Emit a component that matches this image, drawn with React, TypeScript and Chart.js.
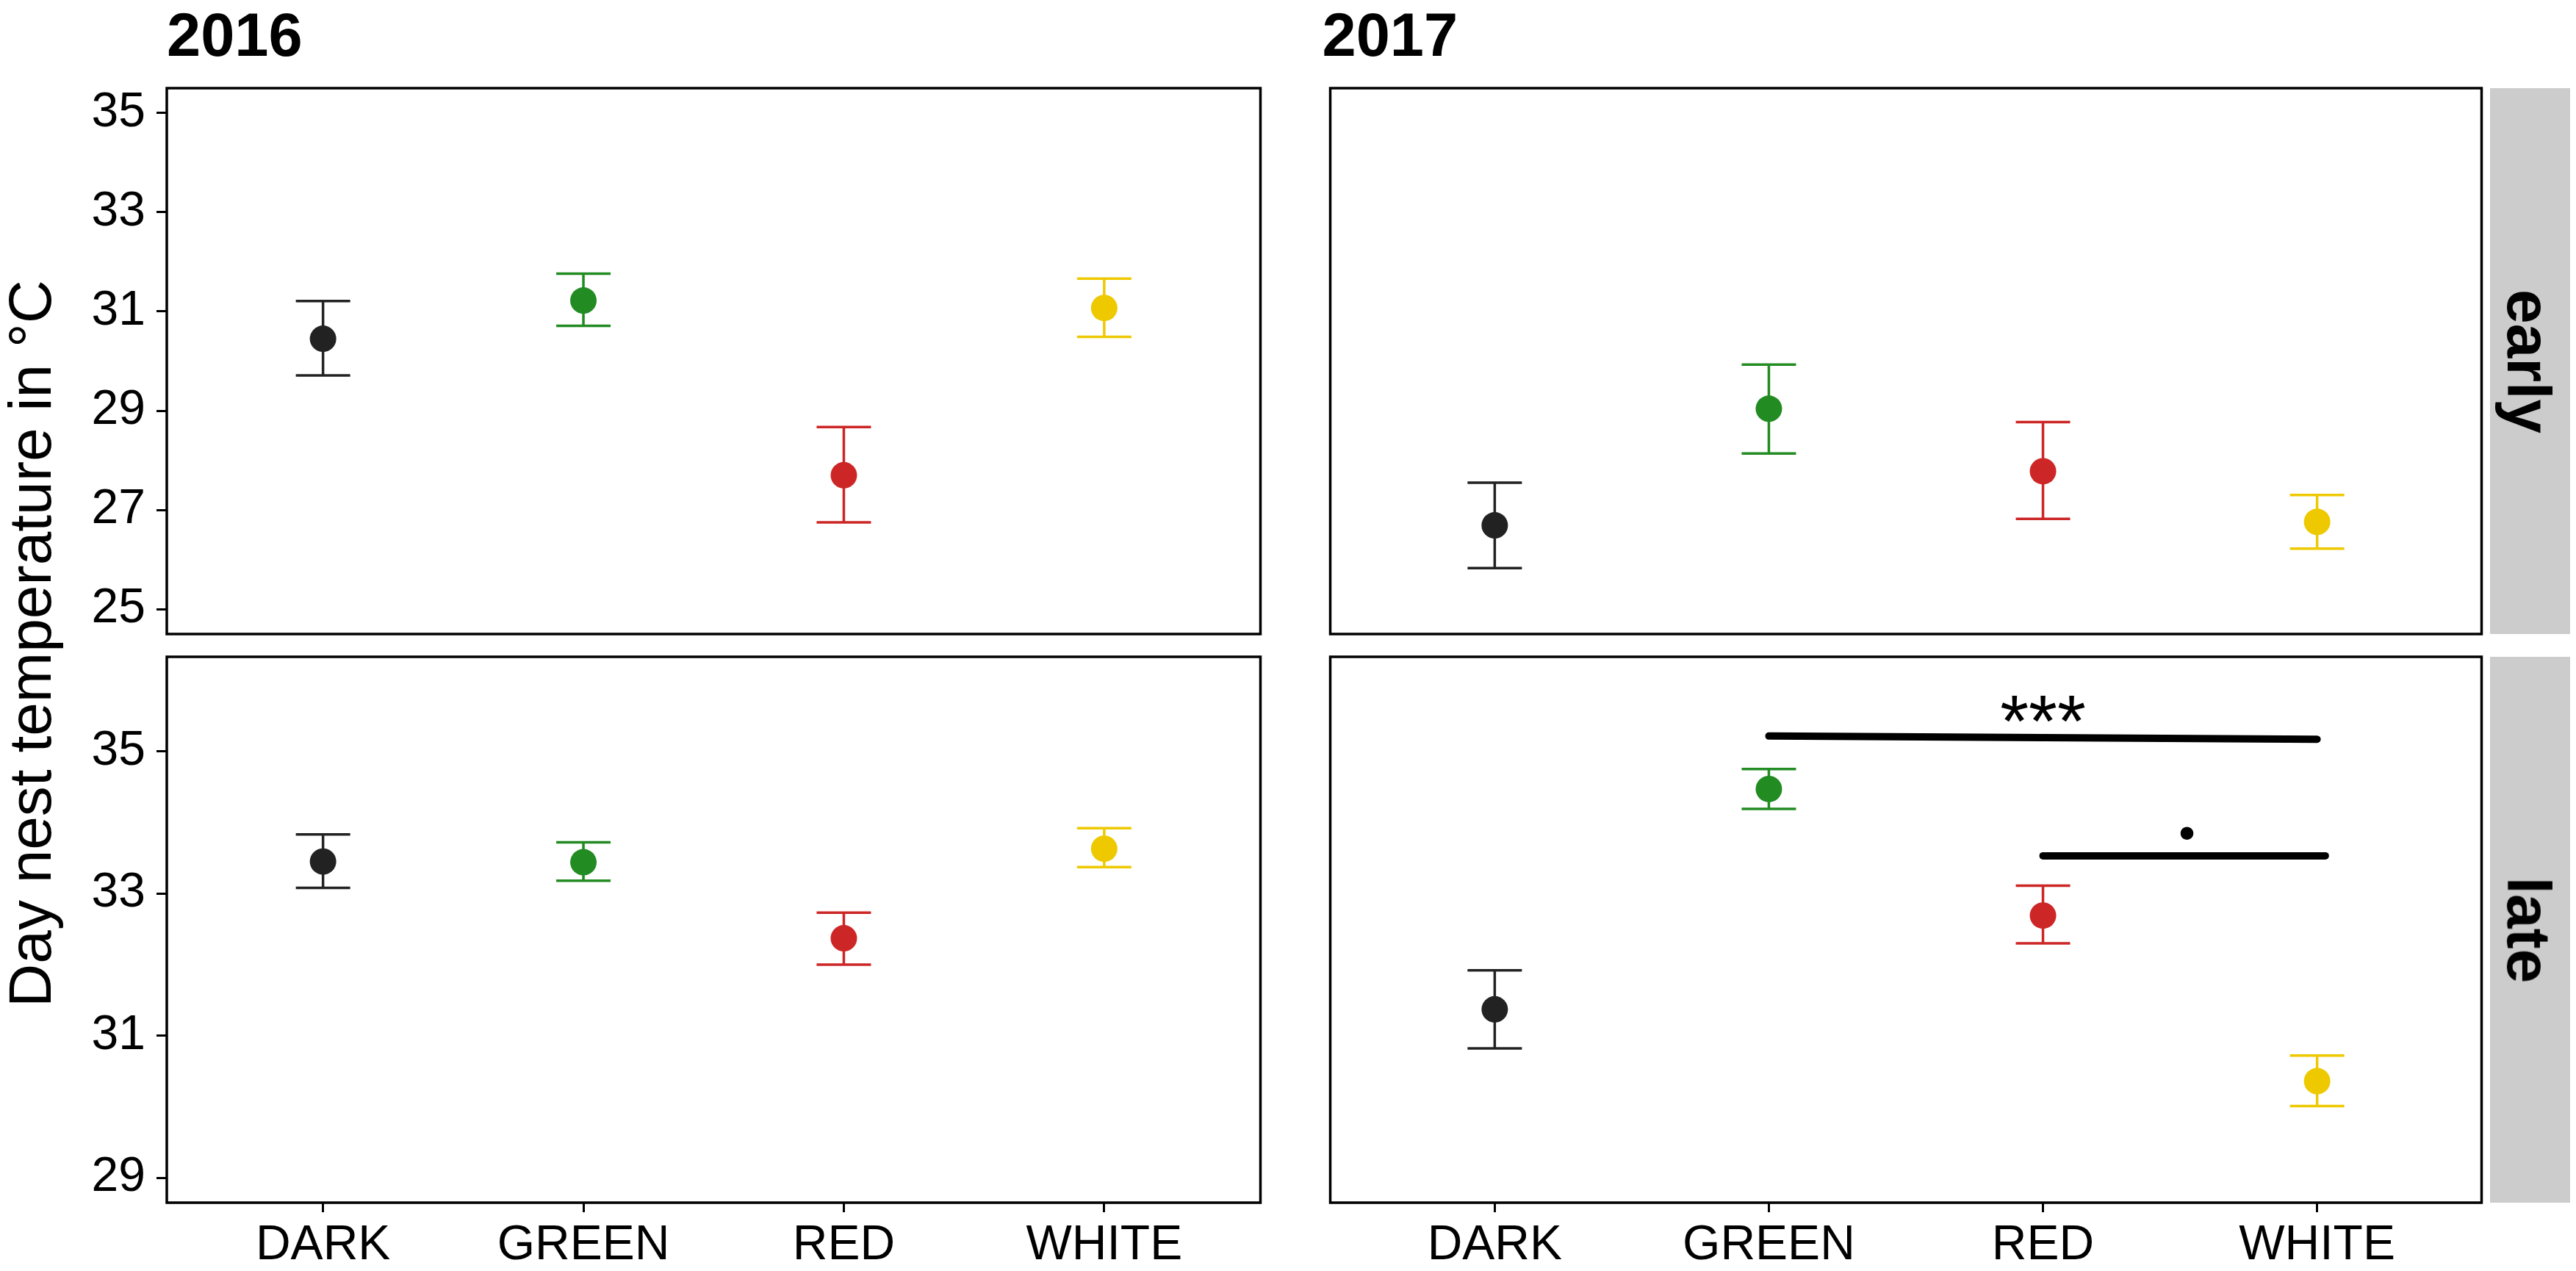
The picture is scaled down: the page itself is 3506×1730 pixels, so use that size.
import React, { useEffect, useRef } from "react";
import { Chart, registerables } from "chart.js";

Chart.register(...registerables);

// ---------------- data ----------------
const categories = ["DARK", "GREEN", "RED", "WHITE"];
const categoryX = [1, 2, 3, 4];
const colors = ["#222222", "#228B22", "#CD2626", "#EEC900"];

const early2016Mean = [30.45, 31.22, 27.7, 31.07];
const early2016Upper = [31.21, 31.76, 28.67, 31.66];
const early2016Lower = [29.71, 30.71, 26.75, 30.49];

const late2016Mean = [33.45, 33.44, 32.37, 33.63];
const late2016Upper = [33.83, 33.72, 32.73, 33.92];
const late2016Lower = [33.08, 33.18, 32.0, 33.37];

const early2017Mean = [26.69, 29.04, 27.78, 26.76];
const early2017Upper = [27.55, 29.93, 28.77, 27.3];
const early2017Lower = [25.83, 28.14, 26.82, 26.22];

const late2017Mean = [31.37, 34.47, 32.69, 30.36];
const late2017Upper = [31.92, 34.75, 33.11, 30.72];
const late2017Lower = [30.82, 34.19, 32.3, 30.01];

const earlyTicks = [25, 27, 29, 31, 33, 35];
const lateTicks = [29, 31, 33, 35];
const earlyRange = [24.5, 35.5];
const lateRange = [28.65, 36.33];
const xRange = [0.4, 4.6];

const sigLineStartX = [2, 3];
const sigLineEndX = [4, 4.03];
const sigLineStartY = [35.215, 33.53];
const sigLineEndY = [35.17, 33.53];
const sigLabels = ["***", "."];
const sigLabelX = [3, 3.525];
const sigLabelY = [35.07, 33.763];

const yearTitles = ["2016", "2017"];
const stripLabels = ["early", "late"];
const yTitle = "Day nest temperature in \u00B0C";

// ---------------- styles ----------------
const FONT = '"Liberation Sans", Arial, Helvetica, sans-serif';
const sigFonts = [`100px ${FONT}`, `140px Lato, ${FONT}`];

type Box = { l: number; t: number; r: number; b: number };

const borderPlugin = {
  id: "panelBorder",
  afterDatasetsDraw(chart: any) {
    const { ctx, chartArea: a } = chart;
    ctx.save();
    ctx.strokeStyle = "#000";
    ctx.lineWidth = 3.5;
    ctx.strokeRect(a.left, a.top, a.right - a.left, a.bottom - a.top);
    ctx.restore();
  },
};

const sigTextPlugin = {
  id: "sigText",
  afterDatasetsDraw(chart: any) {
    const { ctx } = chart;
    const xs = chart.scales.x;
    const ys = chart.scales.y;
    sigLabels.forEach((lab, i) => {
      ctx.save();
      ctx.font = sigFonts[i];
      ctx.fillStyle = "#000";
      ctx.textAlign = "center";
      ctx.textBaseline = "alphabetic";
      ctx.fillText(lab, xs.getPixelForValue(sigLabelX[i]), ys.getPixelForValue(sigLabelY[i]));
      ctx.restore();
    });
  },
};

function Panel(props: {
  box: Box;
  mean: number[];
  upper: number[];
  lower: number[];
  yRange: number[];
  yTicks: number[];
  showY: boolean;
  showX: boolean;
  withSig?: boolean;
}) {
  const { box, mean, upper, lower, yRange, yTicks, showY, showX, withSig } = props;
  const ref = useRef<HTMLCanvasElement | null>(null);
  const LM = showY ? box.l - 100 : 30;
  const TM = 70;
  const RM = 30;
  const BM = showX ? 110 : 70;
  const width = box.r - box.l + LM + RM;
  const height = box.b - box.t + TM + BM;

  useEffect(() => {
    if (!ref.current) return;
    const datasets: any[] = [];
    categoryX.forEach((cx, i) => {
      datasets.push({
        type: "scatter",
        data: [
          { x: cx, y: lower[i] },
          { x: cx, y: upper[i] },
        ],
        showLine: true,
        borderColor: colors[i],
        borderWidth: 3.5,
        pointRadius: 0,
        order: 3,
      });
    });
    datasets.push({
      type: "scatter",
      data: categoryX.flatMap((cx, i) => [
        { x: cx, y: upper[i] },
        { x: cx, y: lower[i] },
      ]),
      pointStyle: "line",
      pointRadius: 37,
      pointBorderColor: colors.flatMap((c) => [c, c]),
      pointBackgroundColor: colors.flatMap((c) => [c, c]),
      pointBorderWidth: 3.5,
      order: 2,
    });
    datasets.push({
      type: "scatter",
      data: categoryX.map((cx, i) => ({ x: cx, y: mean[i] })),
      pointRadius: 18,
      pointBackgroundColor: colors,
      pointBorderWidth: 0,
      order: 1,
    });
    if (withSig) {
      sigLineStartX.forEach((_, i) => {
        datasets.push({
          type: "scatter",
          data: [
            { x: sigLineStartX[i], y: sigLineStartY[i] },
            { x: sigLineEndX[i], y: sigLineEndY[i] },
          ],
          showLine: true,
          borderColor: "#000",
          borderWidth: 10,
          borderCapStyle: "round",
          pointRadius: 0,
          order: 0,
        });
      });
    }

    const plugins: any[] = [borderPlugin];
    if (withSig) plugins.push(sigTextPlugin);

    const chart = new Chart(ref.current, {
      type: "scatter",
      data: { datasets },
      plugins,
      options: {
        animation: false,
        responsive: false,
        devicePixelRatio: 1,
        events: [],
        layout: {
          padding: {
            left: showY ? 0 : LM,
            top: TM,
            right: RM,
            bottom: showX ? 0 : BM,
          },
        },
        plugins: {
          legend: { display: false },
          tooltip: { enabled: false },
        },
        scales: {
          x: {
            type: "linear",
            bounds: "data",
            min: xRange[0],
            max: xRange[1],
            display: showX,
            afterBuildTicks: (s: any) => {
              s.ticks = categoryX.map((v) => ({ value: v }));
            },
            afterFit: (s: any) => {
              s.height = showX ? BM : 0;
            },
            grid: {
              display: true,
              drawOnChartArea: false,
              drawTicks: true,
              tickLength: 13,
              tickWidth: 3,
              tickColor: "#000",
            },
            border: { display: false },
            ticks: {
              font: { family: FONT, size: 66 },
              color: "#000",
              padding: 6,
              maxRotation: 0,
              minRotation: 0,
              autoSkip: false,
              callback: (v: any) => {
                const idx = categoryX.indexOf(Number(v));
                return idx >= 0 ? categories[idx] : "";
              },
            },
          },
          y: {
            type: "linear",
            bounds: "data",
            min: yRange[0],
            max: yRange[1],
            display: showY,
            afterBuildTicks: (s: any) => {
              s.ticks = yTicks.map((v) => ({ value: v }));
            },
            afterFit: (s: any) => {
              s.width = showY ? LM : 0;
            },
            grid: {
              display: true,
              drawOnChartArea: false,
              drawTicks: true,
              tickLength: 14,
              tickWidth: 3,
              tickColor: "#000",
            },
            border: { display: false },
            ticks: {
              font: { family: FONT, size: 66 },
              color: "#000",
              padding: 15,
              autoSkip: false,
              callback: (v: any) => String(v),
            },
          },
        },
      } as any,
    });
    return () => chart.destroy();
  }, []);

  return (
    <canvas
      ref={ref}
      width={width}
      height={height}
      style={{
        position: "absolute",
        left: box.l - LM,
        top: box.t - TM,
        width,
        height,
      }}
    />
  );
}

function Title({ text, left }: { text: string; left: number }) {
  const fs = 83;
  return (
    <div
      style={{
        position: "absolute",
        left,
        top: 77.5 - 0.905 * fs,
        fontFamily: FONT,
        fontWeight: "bold",
        fontSize: fs,
        lineHeight: 1.117,
        whiteSpace: "nowrap",
        color: "#000",
      }}
    >
      {text}
    </div>
  );
}

function Strip({ text, top, bottom }: { text: string; top: number; bottom: number }) {
  const cy = (top + bottom) / 2;
  return (
    <>
      <div
        style={{
          position: "absolute",
          left: 3389,
          top,
          width: 109,
          height: bottom - top,
          background: "#CCCCCC",
        }}
      />
      <div
        style={{
          position: "absolute",
          left: 3441,
          top: cy,
          transform: "translate(-50%, -50%) rotate(90deg)",
          fontFamily: FONT,
          fontWeight: "bold",
          fontSize: 84,
          lineHeight: 1.117,
          whiteSpace: "nowrap",
          color: "#000",
        }}
      >
        {text}
      </div>
    </>
  );
}

export default function App() {
  const LT = { l: 227, t: 120, r: 1726, b: 863 };
  const LB = { l: 227, t: 894, r: 1726, b: 1637 };
  const RT = { l: 1800, t: 120, r: 3388, b: 863 };
  const RB = { l: 1800, t: 894, r: 3388, b: 1637 };
  return (
    <div
      style={{
        position: "absolute",
        left: 0,
        top: 0,
        width: 3506,
        height: 1730,
        background: "#fff",
        overflow: "hidden",
      }}
    >
      <Title text={yearTitles[0]} left={227} />
      <Title text={yearTitles[1]} left={1799.5} />
      <Panel box={LT} mean={early2016Mean} upper={early2016Upper} lower={early2016Lower} yRange={earlyRange} yTicks={earlyTicks} showY={true} showX={false} />
      <Panel box={LB} mean={late2016Mean} upper={late2016Upper} lower={late2016Lower} yRange={lateRange} yTicks={lateTicks} showY={true} showX={true} />
      <Panel box={RT} mean={early2017Mean} upper={early2017Upper} lower={early2017Lower} yRange={earlyRange} yTicks={earlyTicks} showY={false} showX={false} />
      <Panel box={RB} mean={late2017Mean} upper={late2017Upper} lower={late2017Lower} yRange={lateRange} yTicks={lateTicks} showY={false} showX={true} withSig={true} />
      <Strip text={stripLabels[0]} top={120} bottom={863} />
      <Strip text={stripLabels[1]} top={894} bottom={1637} />
      <div
        style={{
          position: "absolute",
          left: 41.3,
          top: 876,
          transform: "translate(-50%, -50%) rotate(-90deg)",
          fontFamily: FONT,
          fontSize: 82,
          lineHeight: 1.117,
          whiteSpace: "nowrap",
          color: "#000",
        }}
      >
        {yTitle}
      </div>
    </div>
  );
}
